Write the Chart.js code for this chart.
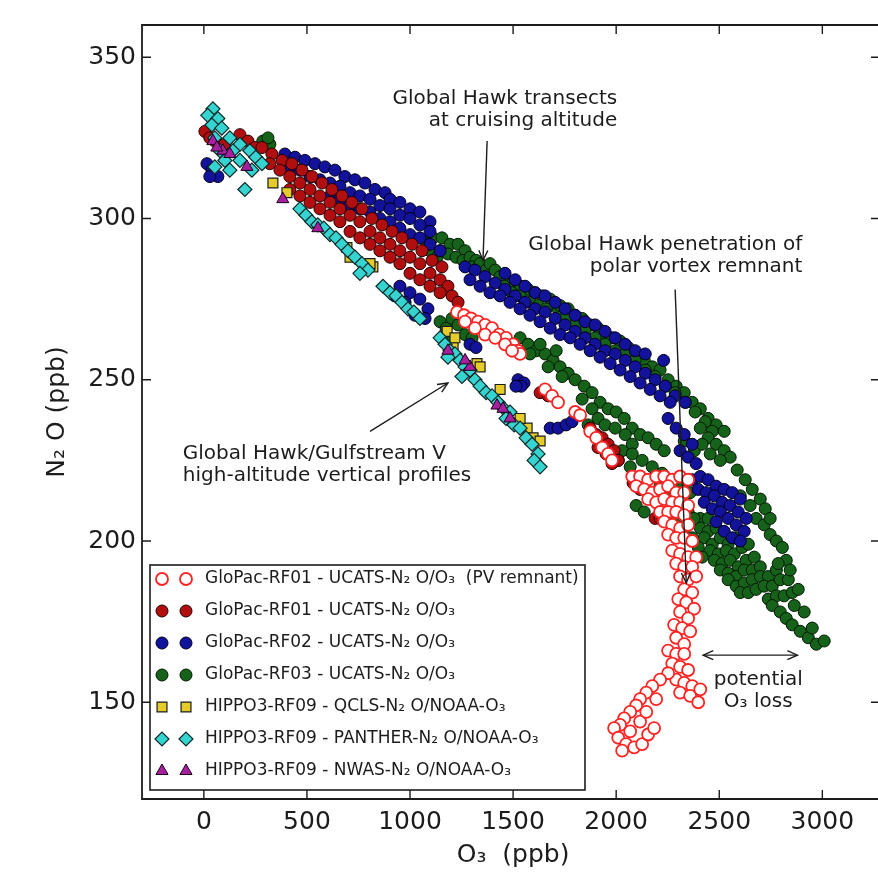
<!DOCTYPE html>
<html>
<head>
<meta charset="utf-8">
<title>N2O vs O3 tracer correlation</title>
<script src="https://cdn.jsdelivr.net/npm/chart.js@4.4.1/dist/chart.umd.min.js"></script>
<style>
  html, body { margin: 0; padding: 0; background: #fff; overflow: hidden; }
  canvas { display: block; }
</style>
</head>
<body>
<canvas id="chart" width="878" height="887"></canvas>
<script>
(function() {
  'use strict';

  /* ---- axis ticks ---- */
  var xTicks = [0, 500, 1000, 1500, 2000, 2500, 3000];
  var yTicks = [150, 200, 250, 300, 350];

  /* ---- legend labels (same order as the series below) ---- */
  var seriesLabels = [
    'GloPac-RF01 - UCATS-N\u2082 O/O\u2083  (PV remnant)',
    'GloPac-RF01 - UCATS-N\u2082 O/O\u2083',
    'GloPac-RF02 - UCATS-N\u2082 O/O\u2083',
    'GloPac-RF03 - UCATS-N\u2082 O/O\u2083',
    'HIPPO3-RF09 - QCLS-N\u2082 O/NOAA-O\u2083',
    'HIPPO3-RF09 - PANTHER-N\u2082 O/NOAA-O\u2083',
    'HIPPO3-RF09 - NWAS-N\u2082 O/NOAA-O\u2083'
  ];

  /* ---- data: [O3 ppb, N2O ppb] ---- */
  var rf01Pv = [
    [1228,271],[1262,270],[1296,269],[1330,268],[1364,267],[1398,266],[1432,264],[1466,263],[1500,261],[1524,259],[1534,258],
    [1267,268],[1315,266],[1364,264],[1413,263],[1461,261],[1495,259],
    [1655,247],[1689,245],[1718,243],[1801,240],[1825,239],[1874,234],[1903,232],[1932,229],[1961,227],[1980,225],
    [2078,220],[2116,220],[2155,219],[2194,220],[2233,220],[2272,219],[2310,220],[2349,219],
    [2097,217],[2136,216],[2175,215],[2213,216],[2252,217],[2291,215],[2330,215],
    [2155,213],[2194,212],[2233,213],[2272,212],[2310,212],[2349,211],
    [2213,209],[2252,209],[2291,209],[2330,208],[2233,206],[2272,205],[2310,204],[2349,205],
    [2252,202],[2291,201],[2330,201],[2369,200],[2272,197],[2310,196],[2349,195],[2388,195],
    [2291,193],[2330,192],[2369,192],[2310,189],[2349,188],[2388,189],[2330,185],[2369,184],
    [2301,182],[2340,181],[2378,179],[2310,178],[2349,176],[2281,174],[2320,173],[2359,172],
    [2291,170],[2330,168],[2252,166],[2291,165],[2330,165],[2272,162],[2310,161],[2349,160],
    [2291,157],[2330,156],[2369,155],[2310,153],[2359,152],[2398,150],[2408,154],
    [2252,159],[2213,157],[2175,155],[2146,153],[2116,151],[2097,149],[2068,147],[2039,145],[2019,143],[1990,142],
    [2010,139],[2048,137],[2087,136],[2126,137],[2155,140],[2184,142],[2116,144],[2068,141],[2029,135],[2146,147],[2194,151]
  ];

  var rf01 = [
    [5,327],[29,325],[53,324],[175,326],[214,324],[248,322],[102,323],
    [282,322],[330,320],[379,318],[427,317],[476,315],[524,313],[573,311],[621,309],[670,307],[718,305],[767,303],[815,300],[864,298],[913,296],[961,294],[1010,292],[1058,290],[1107,287],[1155,285],
    [320,317],[369,315],[417,313],[466,311],[515,309],[563,307],[612,305],[660,303],[709,301],[757,299],[806,296],[854,294],[903,292],[951,290],[1000,288],[1048,286],[1097,283],[1146,281],[1184,279],
    [417,309],[466,307],[515,305],[563,303],[612,301],[660,299],[709,296],[757,294],[806,292],[854,290],[903,288],[951,286],[1000,283],[1048,281],[1097,279],[1146,277],[1204,276],[1233,274],
    [1631,246],[1670,245],[1874,235],[1903,233],[1932,232],[1961,230],[1990,228],[2010,225],[1912,229],[1951,227],[1980,224],
    [2082,218],[2116,216],[2189,207],[2213,207]
  ];

  var rf02 = [
    [15,317],[39,315],[68,313],[29,313],
    [393,320],[442,319],[490,318],[539,317],[587,316],[636,315],[684,313],[733,312],[781,311],[830,309],[879,308],[903,306],[951,305],[1000,303],[1048,302],[1097,299],
    [417,316],[466,315],[515,313],[563,312],[612,311],[660,310],[709,308],[757,307],[806,306],[854,304],[903,303],[951,301],[1000,300],[1048,298],[1097,296],
    [612,307],[660,306],[709,304],[757,303],[806,302],[854,300],[903,299],[951,297],[1000,295],[1048,294],[1097,292],[1146,290],
    [1267,285],[1315,284],[1364,282],[1413,280],[1461,278],[1510,276],[1558,274],[1607,272],[1655,271],[1704,269],[1752,267],[1801,265],[1849,263],[1898,261],[1946,259],[1995,258],[2044,256],[2092,254],[2141,252],[2189,250],[2238,248],[2286,245],[2335,243],
    [1291,281],[1340,279],[1388,277],[1437,276],[1485,274],[1534,272],[1582,270],[1631,268],[1680,266],[1728,264],[1777,263],[1825,261],[1874,259],[1922,257],[1971,255],[2019,253],[2068,251],[2116,249],[2165,247],[2213,245],[2262,243],
    [1461,283],[1510,281],[1558,279],[1607,277],[1655,276],[1704,274],[1752,272],[1801,270],[1849,268],[1898,267],[1946,265],[1995,263],[2044,261],[2092,259],[2141,258],
    [2230,256],
    [951,279],[1000,277],[1048,275],[1087,272],[1024,270],[1073,269],[927,276],[976,274],
    [1524,250],[1553,249],[1539,248],[1514,248],
    [1680,235],[1718,235],[1757,236],[1786,237],
    [1291,261],[1320,260],
    [2369,219],[2408,220],[2446,219],[2485,217],[2524,216],[2563,215],[2602,213],[2398,216],[2437,215],[2476,214],[2514,212],[2553,211],[2592,209],[2631,207],
    [2427,212],[2466,210],[2505,209],[2543,207],[2582,205],[2621,203],[2485,206],[2524,203],[2563,201],[2602,200],
    [2252,238],[2291,235],[2330,233],[2369,230],[2310,228],[2349,226],[2388,224]
  ];

  var rf03 = [
    [286,324],[320,323],[311,325],
    [1073,293],[1112,294],[1155,294],[1194,292],[1233,292],[1267,290],[1146,290],[1184,289],[1223,288],[1257,287],[1291,288],[1320,287],[1301,285],[1340,286],[1369,284],[1388,286],[1413,284],[1097,290],[1131,288],
    [1437,282],[1471,281],[1500,280],[1534,279],[1573,278],[1607,277],[1641,276],[1680,275],[1718,272],[1456,279],[1495,277],[1534,276],[1582,274],[1621,273],[1660,272],
    [1728,273],[1767,272],[1801,270],[1835,269],[1874,267],[1912,266],[1946,264],[1980,263],[2019,262],[2058,260],[2097,258],[2136,256],[2175,254],[2213,253],[2252,250],[2291,248],[2330,246],[2369,243],[2408,241],[2446,238],[2485,236],[2524,234],
    [1752,269],[1801,267],[1849,265],[1898,263],[1946,261],[1995,259],[2044,258],[2092,256],[2141,253],[2189,251],[2238,248],[2286,246],[2335,243],[2383,240],[2432,237],[2466,234],
    [1534,263],[1573,261],[1612,259],[1655,258],[1694,256],[1728,254],[1767,252],[1801,250],[1845,248],[1883,246],[1922,243],[1961,241],[2000,240],[2039,238],[2078,235],[2116,233],[2155,232],[2194,230],[2233,228],
    [1631,261],[1709,259],[1582,258],[1670,254],[1738,251],
    [1146,268],[1175,266],[1204,269],[1233,267],[1267,264],[1301,263],[1184,263],
    [1835,244],[1883,241],[1912,238],[1864,236],[1946,236],[1995,235],[2044,233],[2078,230],
    [2029,228],[2078,227],[2126,225],[2068,223],[2010,225],[2097,211],[2136,209],[2330,231],[2379,228],
    [2408,207],[2446,207],[2408,204],[2446,203],[2485,204],[2427,201],[2466,199],[2505,201],[2543,199],[2582,201],
    [2456,197],[2495,196],[2534,197],[2573,196],[2611,198],[2641,199],
    [2476,194],[2514,193],[2553,194],[2592,192],[2631,194],[2670,195],
    [2505,191],[2543,190],[2582,189],[2621,191],[2660,191],[2699,192],
    [2543,188],[2582,186],[2621,187],[2660,188],[2699,189],[2738,189],[2777,191],
    [2602,184],[2641,184],[2679,185],[2718,186],[2757,186],[2796,188],[2835,188],
    [2738,182],[2777,183],[2815,183],[2854,184],[2883,185],
    [2757,180],[2796,178],[2825,176],[2854,174],[2893,172],[2932,170],[2971,168],[3009,169],[2951,173],[2912,178],[2864,180],
    [2587,222],[2626,219],[2660,216],[2699,213],[2723,210],[2602,214],[2650,211],[2679,207],[2718,205],[2747,202],[2777,200],[2806,198],[2825,194],[2786,193],[2844,191],[2747,207],
    [2175,223],[2223,221],[2272,219],[2320,217],[2359,215],[2213,217],[2262,214],[2310,212],[2349,209],[2378,207],[2291,207],[2330,204],[2369,201],[2398,198],[2417,195],
    [2408,235],[2446,232],[2485,230],[2524,228],[2553,226],[2505,225],[2456,227],[2417,230]
  ];

  var qcls = [
    [335,311],[403,308],[694,291],[820,285],[709,288],[806,286],
    [1180,265],[1209,260],[1325,255],[1340,254],[1437,247],[1568,235],[1597,232],[1631,231],[1534,238],[1218,263]
  ];

  var panther = [
    [44,334],[19,332],[68,331],[39,329],[87,328],[53,325],[126,325],[175,323],[223,321],[102,318],[175,318],[252,319],
    [53,316],[126,315],[233,315],[199,309],[78,321],[141,321],[282,317],
    [466,303],[495,301],[524,299],[553,298],[582,297],[612,295],[641,294],[670,292],[699,290],[733,288],[767,286],[796,284],[757,283],
    [869,279],[903,277],[932,276],[961,274],[990,272],[1019,271],[1048,269],
    [1146,263],[1170,261],[1194,259],[1218,258],[1184,257],[1243,256],[1267,254],[1291,253],[1252,251],[1315,250],[1340,248],
    [1369,246],[1398,245],[1427,243],[1456,241],[1485,240],[1466,238],[1505,236],[1534,235],[1563,232],[1592,230],[1621,227],[1602,225],[1631,223]
  ];

  var nwas = [
    [44,324],[92,321],[126,320],[209,316],[63,322],[383,306],[553,297],
    [1184,259],[1291,254],[1422,242],[1451,241],[1267,256],[1485,238]
  ];

  /* ---- annotations, anchored in data units ---- */
  var noteTexts = [
    { lines: ['Global Hawk transects', 'at cruising altitude'], at: [2005, 337], align: 'right' },
    { lines: ['Global Hawk penetration of', 'polar vortex remnant'], at: [2903, 292], align: 'right' },
    { lines: ['Global Hawk/Gulfstream V', 'high-altitude vertical profiles'], at: [-102, 227], align: 'left' },
    { lines: ['potential', 'O\u2083 loss'], at: [2689, 157], align: 'center' }
  ];
  var noteArrows = [
    { from: [1374, 324], to: [1354, 287], both: false },
    { from: [2286, 278], to: [2340, 187], both: false },
    { from: [806, 234], to: [1184, 249], both: false },
    { from: [2422, 164.6], to: [2879, 164.6], both: true }
  ];

  var FONT = "'DejaVu Sans', Verdana, sans-serif";
  var INK = '#1c1c1c';

  Chart.defaults.font.family = FONT;
  Chart.defaults.color = INK;

  /** marker styles, one per series, same order as seriesLabels */
  var styles = [
    { pointStyle: 'circle', radius: 6, fill: '#ffffff', edge: '#ff2424', width: 1.8, order: 4 },
    { pointStyle: 'circle', radius: 6, fill: '#b10f0f', edge: '#250000', width: 1, order: 5 },
    { pointStyle: 'circle', radius: 6, fill: '#12129a', edge: '#00001c', width: 1, order: 6 },
    { pointStyle: 'circle', radius: 6, fill: '#17621a', edge: '#001800', width: 1, order: 7 },
    { pointStyle: 'rect', radius: 7, fill: '#e6cc2a', edge: '#1c1c1c', width: 1.2, order: 3 },
    { pointStyle: 'rectRot', radius: 7, fill: '#36d4d0', edge: '#102828', width: 1.2, order: 2 },
    { pointStyle: 'triangle', radius: 7, fill: '#a4209c', edge: '#1c001c', width: 1, order: 1 }
  ];
  var seriesData = [rf01Pv, rf01, rf02, rf03, qcls, panther, nwas];

  function toXY(list) {
    return list.map(function(p) { return { x: p[0], y: p[1] }; });
  }

  var datasets = seriesData.map(function(d, i) {
    var s = styles[i];
    return {
      label: seriesLabels[i],
      data: toXY(d),
      order: s.order,
      pointStyle: s.pointStyle,
      pointRadius: s.radius,
      pointBackgroundColor: s.fill,
      pointBorderColor: s.edge,
      pointBorderWidth: s.width,
      showLine: false
    };
  });

  /** chevron arrow head at (x2, y2) coming from (x1, y1) */
  function arrowHead(ctx, x1, y1, x2, y2) {
    var a = Math.atan2(y2 - y1, x2 - x1), len = 11, spread = 0.42;
    ctx.beginPath();
    ctx.moveTo(x2 - len * Math.cos(a - spread), y2 - len * Math.sin(a - spread));
    ctx.lineTo(x2, y2);
    ctx.lineTo(x2 - len * Math.cos(a + spread), y2 - len * Math.sin(a + spread));
    ctx.stroke();
  }

  function drawMarker(ctx, s, x, y) {
    ctx.fillStyle = s.fill;
    ctx.strokeStyle = s.edge;
    ctx.lineWidth = s.width;
    if (Chart.helpers && Chart.helpers.drawPoint) {
      Chart.helpers.drawPoint(ctx, { pointStyle: s.pointStyle, radius: s.radius, rotation: 0, borderWidth: s.width }, x, y);
    } else {
      ctx.beginPath();
      ctx.arc(x, y, s.radius, 0, Math.PI * 2);
      ctx.fill();
      ctx.stroke();
    }
  }

  var decorations = {
    id: 'decorations',
    afterDatasetsDraw: function(chart) {
      var ctx = chart.ctx, xs = chart.scales.x, ys = chart.scales.y;
      ctx.save();
      ctx.strokeStyle = INK;
      ctx.lineWidth = 1.4;
      noteArrows.forEach(function(n) {
        var x1 = xs.getPixelForValue(n.from[0]), y1 = ys.getPixelForValue(n.from[1]);
        var x2 = xs.getPixelForValue(n.to[0]), y2 = ys.getPixelForValue(n.to[1]);
        ctx.beginPath();
        ctx.moveTo(x1, y1);
        ctx.lineTo(x2, y2);
        ctx.stroke();
        arrowHead(ctx, x1, y1, x2, y2);
        if (n.both) arrowHead(ctx, x2, y2, x1, y1);
      });
      ctx.fillStyle = INK;
      ctx.font = '20px ' + FONT;
      ctx.textBaseline = 'middle';
      noteTexts.forEach(function(n) {
        var x = xs.getPixelForValue(n.at[0]), y = ys.getPixelForValue(n.at[1]);
        ctx.textAlign = n.align;
        n.lines.forEach(function(line, i) { ctx.fillText(line, x, y + i * 22); });
      });
      ctx.restore();
    },
    afterDraw: function(chart) {
      var ctx = chart.ctx, a = chart.chartArea, xs = chart.scales.x, ys = chart.scales.y;
      ctx.save();

      // frame (the right spine lies just past the figure edge) + inward ticks
      ctx.strokeStyle = INK;
      ctx.lineWidth = 1.8;
      ctx.beginPath();
      ctx.moveTo(a.right + 2, a.top);
      ctx.lineTo(a.left, a.top);
      ctx.lineTo(a.left, a.bottom);
      ctx.lineTo(a.right + 2, a.bottom);
      ctx.stroke();
      ctx.lineWidth = 1.4;
      ctx.beginPath();
      xTicks.forEach(function(v) {
        var px = xs.getPixelForValue(v);
        ctx.moveTo(px, a.bottom); ctx.lineTo(px, a.bottom - 9);
        ctx.moveTo(px, a.top); ctx.lineTo(px, a.top + 9);
      });
      yTicks.forEach(function(v) {
        var py = ys.getPixelForValue(v);
        ctx.moveTo(a.left, py); ctx.lineTo(a.left + 9, py);
        ctx.moveTo(a.right, py); ctx.lineTo(a.right - 7, py);
      });
      ctx.stroke();

      // axis titles
      ctx.fillStyle = INK;
      ctx.font = '25px ' + FONT;
      ctx.textAlign = 'center';
      ctx.textBaseline = 'middle';
      ctx.fillText('O\u2083  (ppb)', xs.getPixelForValue(1500), 855);
      ctx.save();
      ctx.translate(57, (a.top + a.bottom) / 2);
      ctx.rotate(-Math.PI / 2);
      ctx.fillText('N\u2082 O (ppb)', 0, 0);
      ctx.restore();

      // legend box, two markers per entry
      var bx = a.left + 8, by = a.bottom - 234, bw = 435, bh = 225;
      ctx.fillStyle = '#ffffff';
      ctx.fillRect(bx, by, bw, bh);
      ctx.strokeStyle = INK;
      ctx.lineWidth = 1.6;
      ctx.strokeRect(bx, by, bw, bh);
      ctx.font = '17px ' + FONT;
      ctx.textAlign = 'left';
      ctx.textBaseline = 'middle';
      seriesLabels.forEach(function(label, i) {
        var y = by + 14 + i * 32;
        drawMarker(ctx, styles[i], bx + 12, y);
        drawMarker(ctx, styles[i], bx + 36, y);
        ctx.fillStyle = INK;
        ctx.fillText(label, bx + 55, y);
      });
      ctx.restore();
    }
  };

  new Chart(document.getElementById('chart'), {
    type: 'scatter',
    data: { datasets: datasets },
    options: {
      responsive: false,
      animation: false,
      events: [],
      devicePixelRatio: 1,
      layout: { autoPadding: false, padding: { top: 25, right: 0, left: 0, bottom: 0 } },
      plugins: {
        legend: { display: false },
        tooltip: { enabled: false }
      },
      scales: {
        x: {
          type: 'linear',
          position: 'bottom',
          min: -300,
          max: 3270,
          afterBuildTicks: function(s) { s.ticks = xTicks.map(function(v) { return { value: v }; }); },
          afterFit: function(s) { s.height = 88; },
          grid: { display: false, drawTicks: false },
          border: { display: false },
          ticks: {
            padding: 8, color: INK, font: { size: 25 }, autoSkip: false, maxRotation: 0, minRotation: 0,
            callback: function(v) { return String(v); }
          }
        },
        y: {
          type: 'linear',
          position: 'left',
          min: 120,
          max: 360,
          afterBuildTicks: function(s) { s.ticks = yTicks.map(function(v) { return { value: v }; }); },
          afterFit: function(s) { s.width = 142; },
          grid: { display: false, drawTicks: false },
          border: { display: false },
          ticks: {
            padding: 6, color: INK, font: { size: 25 }, autoSkip: false,
            callback: function(v) { return String(v); }
          }
        }
      }
    },
    plugins: [decorations]
  });
})();
</script>
</body>
</html>
